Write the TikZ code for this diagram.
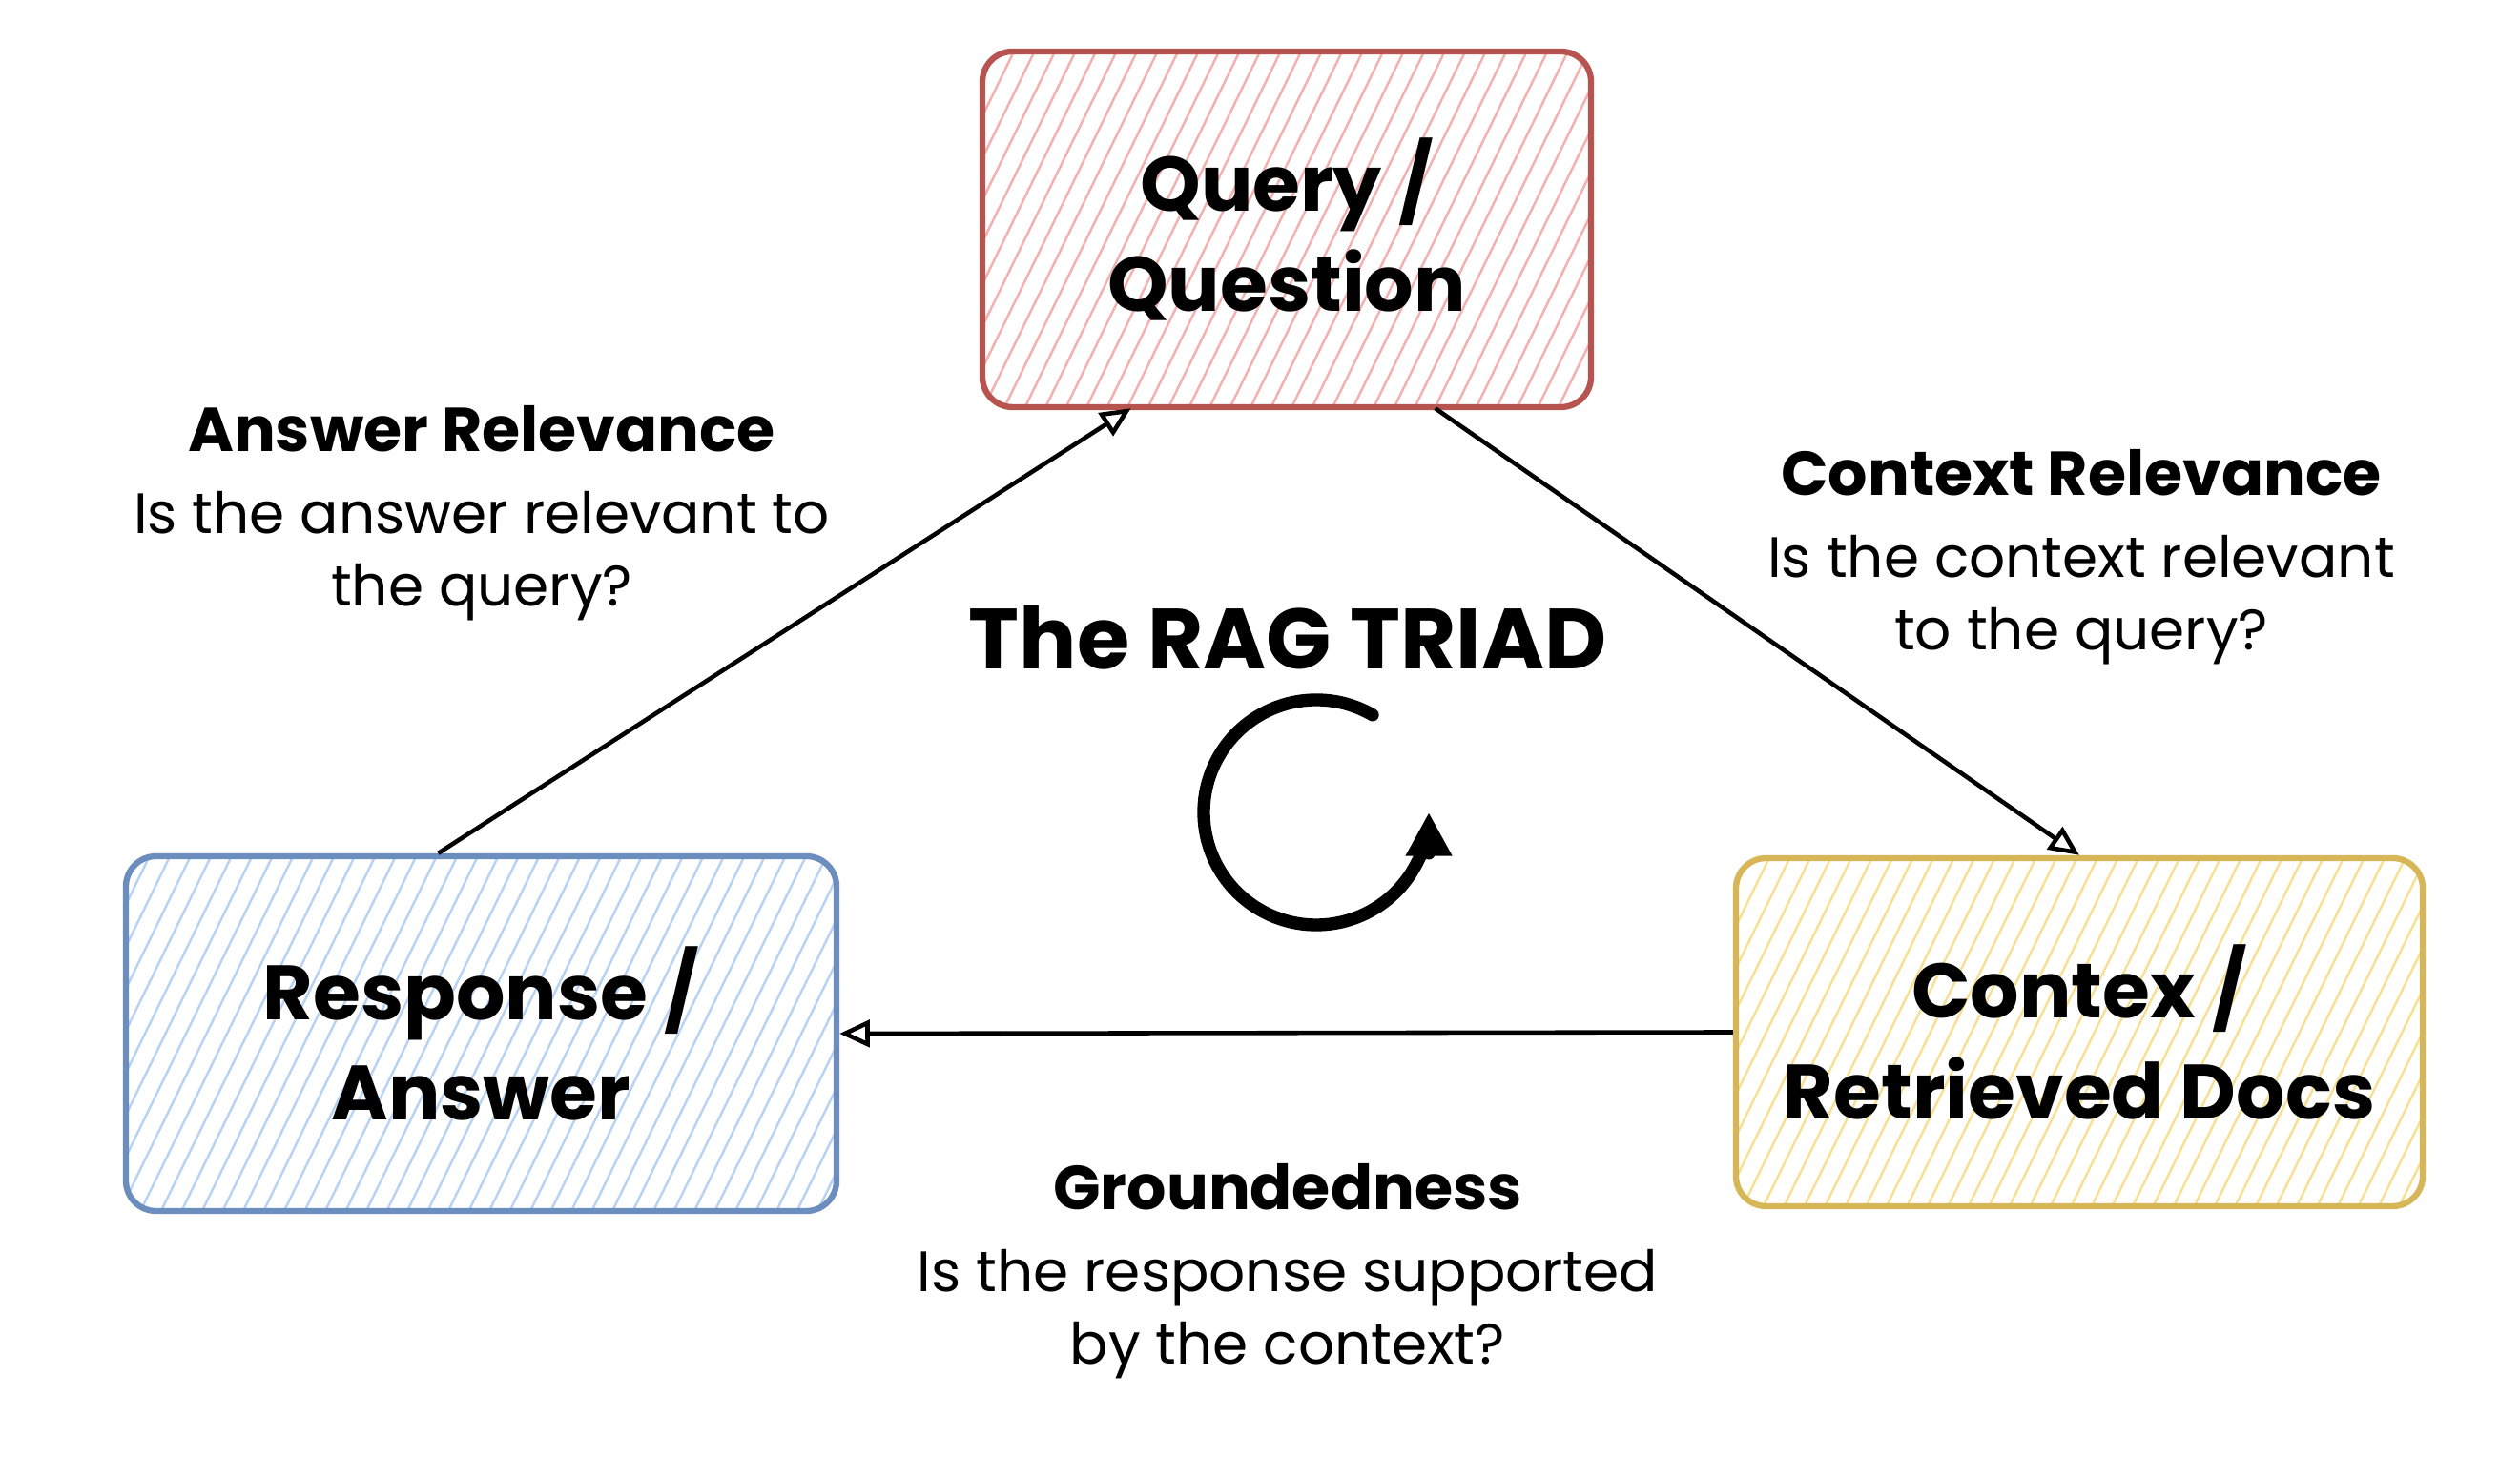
\documentclass[tikz,border=0pt]{standalone}
\usepackage{fontspec}
\setmainfont{Poppins}
\usepackage{tikz}
\usetikzlibrary{calc,arrows.meta,patterns.meta}
\definecolor{qred}{RGB}{184,84,80}
\definecolor{qredfill}{RGB}{242,176,174}
\definecolor{rblue}{RGB}{108,142,191}
\definecolor{rbluefill}{RGB}{184,210,244}
\definecolor{cyellow}{RGB}{214,182,86}
\definecolor{cyellowfill}{RGB}{248,224,146}
\newcommand{\lblheadfont}{\fontsize{18.5}{21.5}\selectfont\bfseries}

\tikzset{
	box/.style={draw, rounded corners=9pt, line width=1.8pt, align=center, inner sep=0pt, font=\fontsize{23}{30}\selectfont\bfseries},
	hatch/.style={pattern={Lines[angle=64,distance=5.5pt,line width=0.7pt]}, pattern color=#1},
	link/.style={line width=1.3pt, -{Triangle[open,length=9pt,width=8pt]}},
	lbl/.style={align=center, font=\fontsize{17}{21.5}\selectfont},
}

\begin{document}
\begin{tikzpicture}
						\useasboundingbox (0,0) rectangle (26.42,15.28);
						
						\node[box, draw=qred, hatch=qredfill, minimum width=6.38cm, minimum height=3.73cm] (query) at (13.49,12.875) {Query /\\Question};
						\node[box, draw=rblue, hatch=rbluefill, minimum width=7.45cm, minimum height=3.72cm] (resp) at (5.045,4.44) {Response /\\Answer};
						\node[box, draw=cyellow, hatch=cyellowfill, minimum width=7.2cm, minimum height=3.65cm] (ctx) at (21.8,4.455) {Contex /\\Retrieved Docs};
						
						\draw[link] ($(resp.north west)!0.44!(resp.north east)$) - - ($(query.south west)!0.245!(query.south east)$);
						\draw[link] ($(query.south west)!0.743!(query.south east)$) - - (ctx.north);
						\draw[link] (ctx.west) - - (resp.east);
						
						\node[lbl] (ansrel) at (5.05,9.90) {{\lblheadfont Answer Relevance}\\[3pt]Is the answer relevant to\\the query?};
						\node[lbl] (ctxrel) at (21.82,9.44) {{\lblheadfont Context Relevance}\\[3pt]Is the context relevant\\to the query?};
						\node[lbl] (ground) at (13.50,1.95) {{\lblheadfont Groundedness}\\[3pt]Is the response supported\\by the context?};
						
						\node[font=\fontsize{25.5}{30}\selectfont\bfseries] (title) at (13.50,8.59) {The RAG TRIAD};
						
						\coordinate (spin) at (13.80,6.76);
						\draw[line width=3.8pt, line cap=round, -{Triangle[length=13pt,width=13pt]}] ($(spin)+(60:1.18)$) arc[start angle=60, end angle=360, radius=1.18cm];
					\end{tikzpicture}
\end{document}
